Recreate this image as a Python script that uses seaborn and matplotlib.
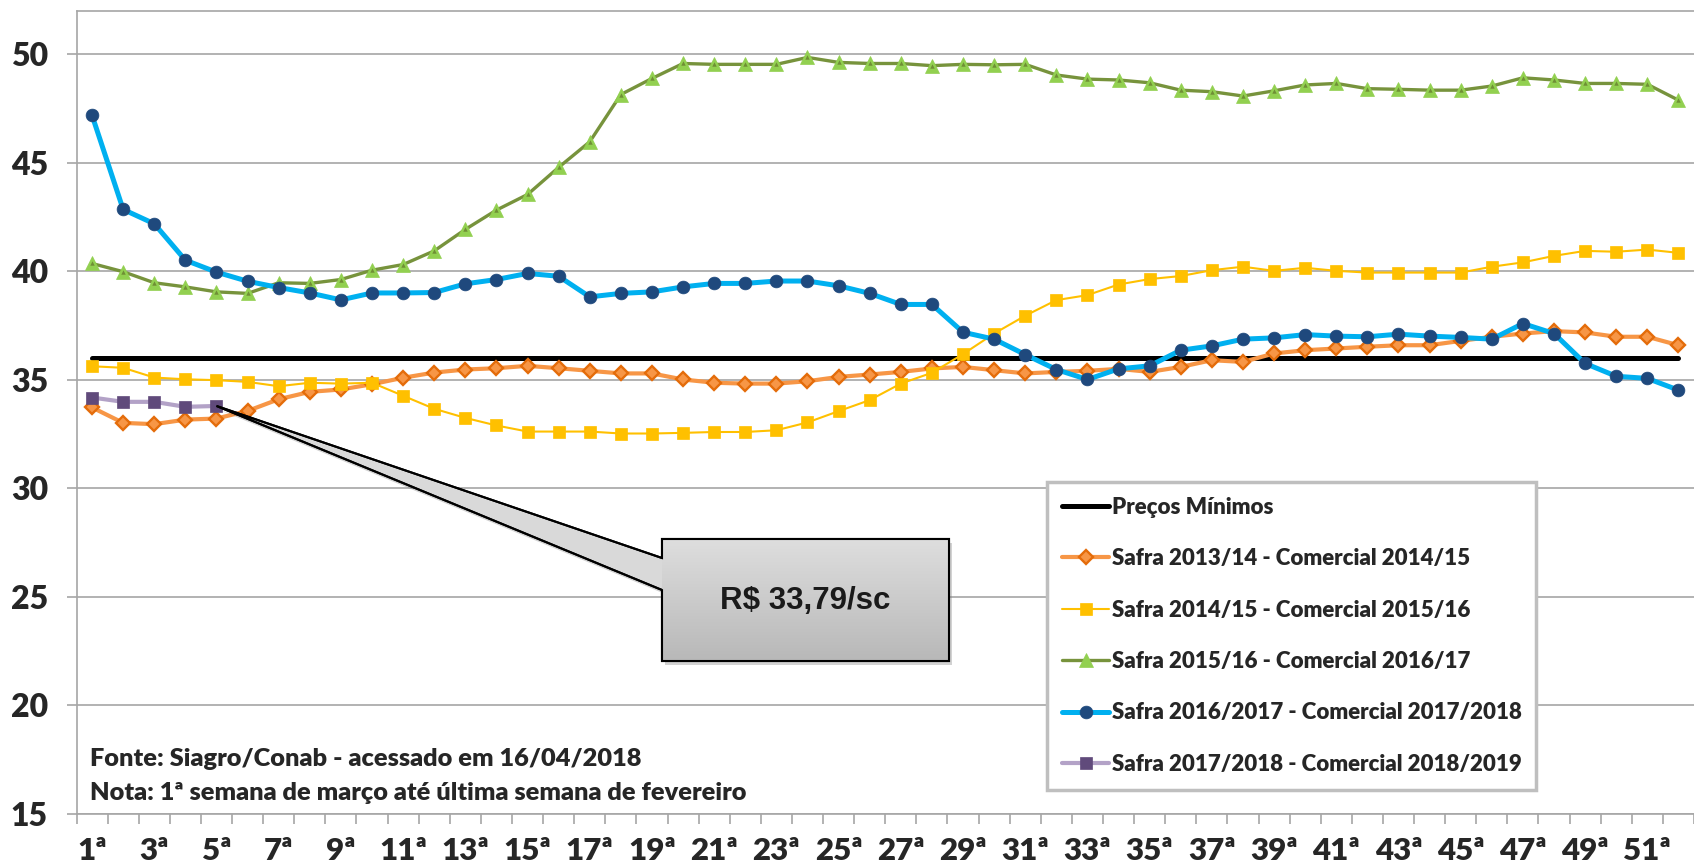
"""Preço do milho - comparativo semanal por safra (Siagro/Conab)."""

import matplotlib.pyplot as plt
import numpy as np
import pandas as pd
import seaborn as sns
from matplotlib.colors import LinearSegmentedColormap
from matplotlib.patches import Polygon

W, H = 1694, 866

# ---- data -------------------------------------------------------------
weeks = np.arange(1, 53)
week_labels = [f"{w}ª" for w in weeks]

preco_minimo = 36.0

safra_1314 = [
    33.72, 33.01, 32.95, 33.16, 33.21, 33.56, 34.10, 34.44, 34.55, 34.79,
    35.09, 35.33, 35.47, 35.53, 35.64, 35.53, 35.41, 35.29, 35.29, 35.01,
    34.86, 34.82, 34.82, 34.93, 35.13, 35.24, 35.36, 35.52, 35.59, 35.44,
    35.29, 35.36, 35.41, 35.50, 35.36, 35.59, 35.90, 35.82, 36.21, 36.36,
    36.44, 36.52, 36.59, 36.59, 36.79, 36.98, 37.13, 37.24, 37.18, 36.98,
    36.98, 36.59,
]
safra_1415 = [
    35.62, 35.55, 35.10, 35.02, 34.98, 34.90, 34.70, 34.86, 34.82, 34.86,
    34.26, 33.66, 33.24, 32.89, 32.61, 32.61, 32.61, 32.52, 32.52, 32.55,
    32.59, 32.59, 32.67, 33.03, 33.55, 34.06, 34.82, 35.32, 36.18, 37.13,
    37.95, 38.67, 38.90, 39.39, 39.64, 39.78, 40.05, 40.21, 40.02, 40.16,
    40.02, 39.94, 39.94, 39.94, 39.94, 40.21, 40.41, 40.71, 40.94, 40.90,
    41.00, 40.85,
]
safra_1516 = [
    40.36, 39.98, 39.47, 39.28, 39.05, 38.98, 39.47, 39.44, 39.62, 40.05,
    40.31, 40.94, 41.93, 42.82, 43.54, 44.79, 45.97, 48.15, 48.89, 49.58,
    49.54, 49.54, 49.54, 49.86, 49.63, 49.58, 49.58, 49.48, 49.54, 49.52,
    49.54, 49.05, 48.86, 48.82, 48.69, 48.35, 48.28, 48.08, 48.32, 48.59,
    48.66, 48.42, 48.39, 48.35, 48.35, 48.54, 48.92, 48.82, 48.66, 48.66,
    48.62, 47.89,
]
safra_1617 = [
    47.19, 42.85, 42.19, 40.51, 39.96, 39.54, 39.25, 39.00, 38.68, 39.00,
    39.00, 39.02, 39.42, 39.62, 39.90, 39.77, 38.82, 38.98, 39.05, 39.28,
    39.44, 39.44, 39.55, 39.55, 39.33, 38.98, 38.47, 38.47, 37.19, 36.87,
    36.16, 35.47, 35.01, 35.50, 35.64, 36.36, 36.56, 36.87, 36.93, 37.08,
    37.01, 36.98, 37.10, 37.01, 36.95, 36.87, 37.59, 37.13, 35.75, 35.16,
    35.06, 34.52,
]
safra_1718 = [34.18, 33.98, 33.98, 33.75, 33.79]

callout_week = 5
callout_value = 33.79
callout_text = "R$ 33,79/sc"

fonte = "Fonte: Siagro/Conab - acessado em 16/04/2018"
nota = "Nota: 1ª semana de março até última semana de fevereiro"

# ---- style ------------------------------------------------------------
sns.set_theme(style="white")
plt.rcParams["font.family"] = ["Lato", "DejaVu Sans"]
plt.rcParams["font.weight"] = "heavy"

grid_grey = "#a6a6a6"

fig = plt.figure(figsize=(W / 100, H / 100), dpi=100)
ax = fig.add_axes([76.5 / W, 1 - 813.5 / H, 1 - 76.5 / W, (813.5 - 11) / H])

series = [
    ("Safra 2013/14 - Comercial 2014/15", weeks, safra_1314,
     dict(color="#F79646", lw=3.0, marker="D", ms=6.8, mfc="#F79646",
          mec="#E46C0A", mew=1.7)),
    ("Safra 2014/15 - Comercial 2015/16", weeks, safra_1415,
     dict(color="#FFC000", lw=1.5, marker="s", ms=8.6, mfc="#FFC000",
          mec="#FFC000", mew=0.5)),
    ("Safra 2015/16 - Comercial 2016/17", weeks, safra_1516,
     dict(color="#77933C", lw=2.4, marker="^", ms=10.5, mfc="#92D050",
          mec="#92D050", mew=0.5)),
    ("Safra 2016/2017 - Comercial 2017/2018", weeks, safra_1617,
     dict(color="#00B0F0", lw=3.6, marker="o", ms=9.2, mfc="#1F497D",
          mec="#1F497D", mew=0.5)),
    ("Safra 2017/2018 - Comercial 2018/2019", weeks[:len(safra_1718)], safra_1718,
     dict(color="#B3A2C7", lw=3.0, marker="s", ms=8.8, mfc="#604A7B",
          mec="#604A7B", mew=0.5)),
]

sns.lineplot(x=weeks[[0, -1]], y=[preco_minimo, preco_minimo], ax=ax,
             color="black", lw=3.6, solid_capstyle="round",
             label="Preços Mínimos")
for label, x, y, kw in series:
    sns.lineplot(x=x, y=y, ax=ax, label=label, **kw)
    if kw["marker"] == "^":
        # small darker triangle inside the green markers
        sns.lineplot(x=x, y=y, ax=ax, lw=0, marker="^", ms=3.2,
                     mfc="#6f8f35", mec="#6f8f35", mew=0,
                     label="_nolegend_")

# ---- axes -------------------------------------------------------------
ax.set_xlim(0.5, 52.13)
ax.set_ylim(15, 52)
ax.set_yticks(range(15, 55, 5))
ax.yaxis.grid(True, color=grid_grey, lw=1.2)
ax.set_axisbelow(True)
ax.set_xlabel("")
ax.set_ylabel("")

ax.set_xticks(weeks[::2])
ax.set_xticklabels(week_labels[::2])
ax.set_xticks(np.arange(0.5, 53, 1), minor=True)
ax.tick_params(axis="x", which="major", length=0, pad=17, labelsize=22.5)
ax.tick_params(axis="x", which="minor", length=7.5, width=1.2,
               color=grid_grey, direction="out")
ax.tick_params(axis="y", length=7.5, width=1.2, color=grid_grey, pad=13,
               labelsize=23)
ax.tick_params(bottom=True, left=True, which="both")
for lab in ax.get_xticklabels() + ax.get_yticklabels():
    lab.set_fontweight("heavy")

for side in ["left", "bottom", "top"]:
    ax.spines[side].set_color(grid_grey)
    ax.spines[side].set_linewidth(1.2)
ax.spines["right"].set_visible(False)

# ---- legend -----------------------------------------------------------
handles, labels = ax.get_legend_handles_labels()
leg = ax.legend(handles, labels, loc="upper left",
                bbox_to_anchor=(1047 / W, 1 - 482 / H),
                bbox_transform=fig.transFigure, borderaxespad=0,
                frameon=True, fancybox=False, edgecolor="#bfbfbf",
                framealpha=1, borderpad=0.66, labelspacing=1.37,
                handlelength=2.15, handletextpad=0.1, numpoints=1,
                prop=dict(weight="heavy", size=16))
leg.get_frame().set_linewidth(2.5)

# ---- overlay in pixel coords: callout + notes -------------------------
ov = fig.add_axes([0, 0, 1, 1])
ov.set_xlim(0, W)
ov.set_ylim(H, 0)
ov.axis("off")
ov.patch.set_alpha(0)

tip = ov.transData.inverted().transform(
    ax.transData.transform((callout_week, callout_value)))
bx0, bx1, by0, by1 = 662, 949, 539, 661
verts = [tip, (bx0, 558), (bx0, by0), (bx1, by0), (bx1, by1), (bx0, by1),
         (bx0, 590)]

shadow = Polygon([(vx + 3, vy + 4) for vx, vy in verts], closed=True,
                 fc="#7f7f7f", ec="none", alpha=0.35, zorder=1)
ov.add_patch(shadow)
callout = Polygon(verts, closed=True, fc="#d9d9d9", ec="black", lw=1.5,
                  joinstyle="miter", zorder=2)
ov.add_patch(callout)
grad = np.linspace(0, 1, 256).reshape(-1, 1)
cmap = LinearSegmentedColormap.from_list("callout", ["#dedede", "#b8b8b8"])
img = ov.imshow(grad, cmap=cmap, extent=(bx0, bx1, by1, by0), aspect="auto",
                origin="upper", zorder=2.5)
img.set_clip_path(callout)
edge = Polygon(verts, closed=True, fc="none", ec="black", lw=1.5,
               joinstyle="miter", zorder=3)
ov.add_patch(edge)
ov.text((bx0 + bx1) / 2, (by0 + by1) / 2 + 1, callout_text, ha="center",
        va="center", fontsize=22.5, fontweight="bold", color="#1a1a1a",
        family=["Liberation Sans", "DejaVu Sans"], zorder=4)

ov.text(90, 759, fonte, ha="left", va="center", fontsize=18.3,
        fontweight="heavy")
ov.text(90, 793, nota, ha="left", va="center", fontsize=18.3,
        fontweight="heavy")

fig.savefig("out.png", dpi=100)
